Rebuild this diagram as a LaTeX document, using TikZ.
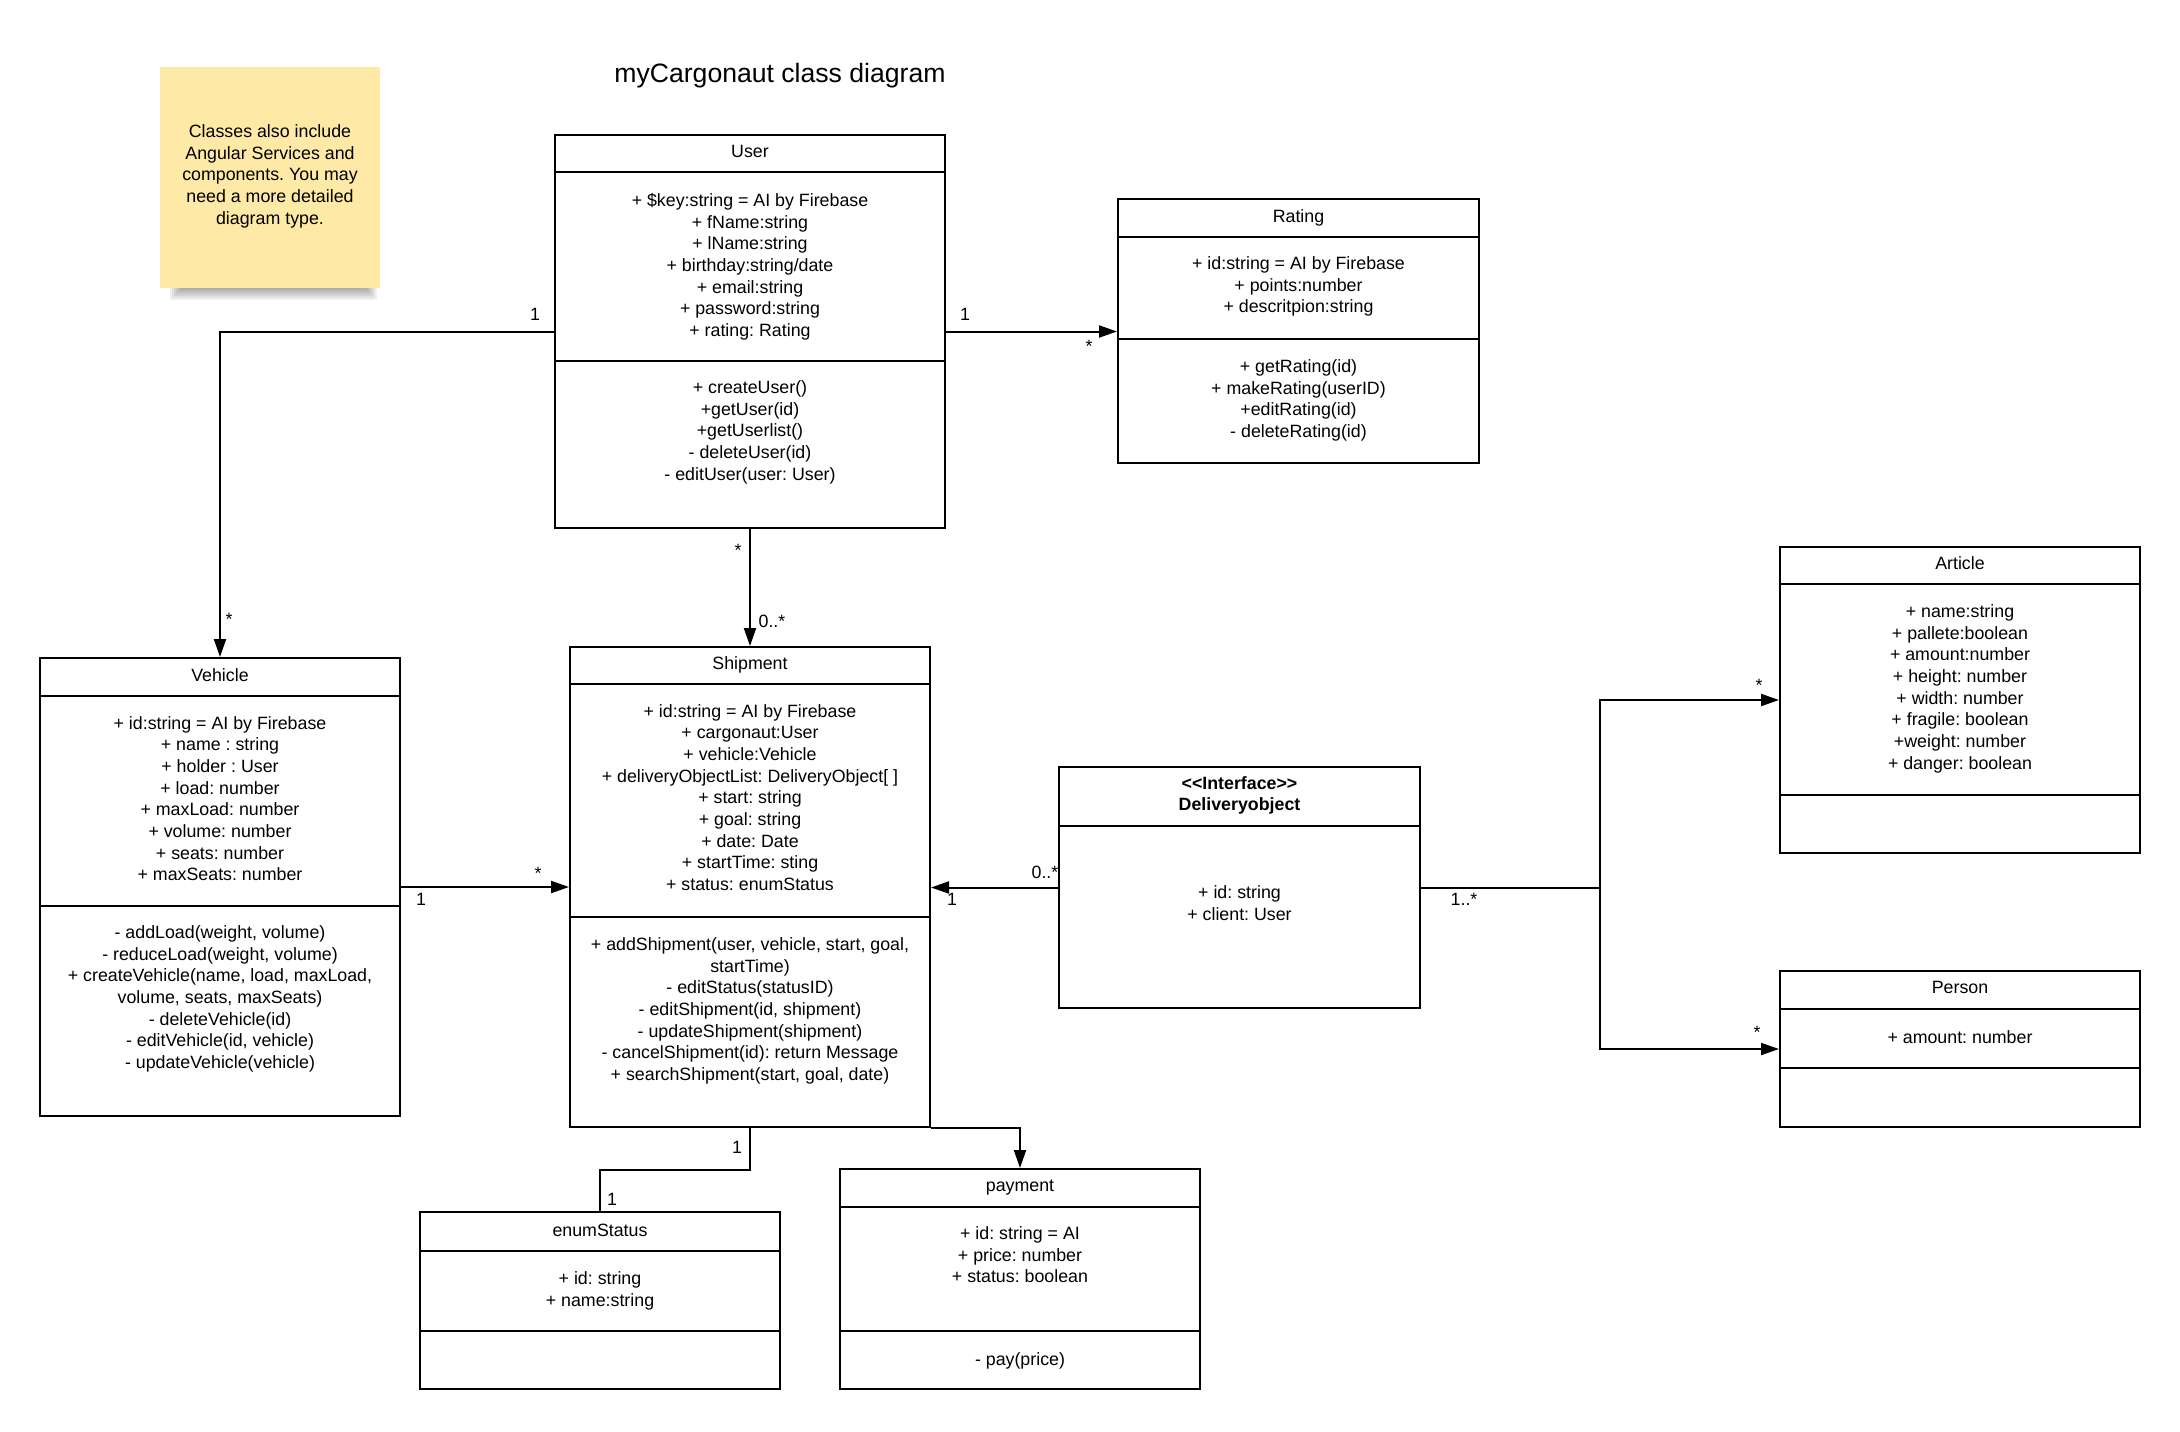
\documentclass[tikz,border=0pt]{standalone}
\usepackage{fontspec}
\setmainfont{Liberation Sans}
\usetikzlibrary{arrows.meta,fit}
\definecolor{stickyyellow}{RGB}{254,233,166}
\newcommand\umlfont{\fontsize{8.9pt}{10.83pt}\selectfont\frenchspacing}
\tikzset{
classbox/.style={draw=black, line width=1pt, fill=white, inner sep=0pt},
classline/.style={draw=black, line width=1pt},
classtext/.style={font=\umlfont, align=center, inner sep=0pt, anchor=north, yshift=-1.4pt, execute at begin node=\strut},
multlabel/.style={font=\umlfont, inner sep=0pt, anchor=base},
assocarrow/.style={draw=black, line width=1pt, -{Triangle[length=9pt,width=6pt]}},
assocline/.style={draw=black, line width=1pt},
}
\begin{document}
\begin{tikzpicture}[x=0.5pt,y=-0.5pt]
\fill[white] (0,0) rectangle (2180,1431);
\useasboundingbox (0,0) rectangle (2180,1431);

\foreach \d in {0,2,...,10} \fill[black,opacity=0.06] (170+\d,280) rectangle (377-\d,300-\d);
\node[fit={(160,67) (380,288)}, fill=stickyyellow, inner sep=0pt] (note) {};
\node[classtext] (notetext) at (270,121.5) {Classes also include\\Angular Services and\\components. You may\\need a more detailed\\diagram type.};
\node[font=\fontsize{13.3pt}{16pt}\selectfont, anchor=base, inner sep=0pt] (title) at (780,82) {myCargonaut class diagram};

\node[classbox, fit={(555,135) (945,528)}] (user) {};
\draw[classline] (555,172) -- (945,172);
\draw[classline] (555,361) -- (945,361);
\node[classtext] (usertitle) at (750,139) {User};
\node[classtext] (userattr) at (750,190) {+ \$key:string = AI by Firebase\\+ fName:string\\+ lName:string\\+ birthday:string/date\\+ email:string\\+ password:string\\+ rating: Rating};
\node[classtext] (usermeth) at (750,377.5) {+ createUser()\\+getUser(id)\\+getUserlist()\\- deleteUser(id)\\- editUser(user: User)};

\node[classbox, fit={(1118,199) (1479,463)}] (rating) {};
\draw[classline] (1118,237) -- (1479,237);
\draw[classline] (1118,339) -- (1479,339);
\node[classtext] (ratingtitle) at (1298.5,204) {Rating};
\node[classtext] (ratingattr) at (1298.5,253.5) {+ id:string = AI by Firebase\\+ points:number\\+ descritpion:string};
\node[classtext] (ratingmeth) at (1298.5,356.5) {+ getRating(id)\\+ makeRating(userID)\\+editRating(id)\\- deleteRating(id)};

\node[classbox, fit={(40,658) (400,1116)}] (vehicle) {};
\draw[classline] (40,696) -- (400,696);
\draw[classline] (40,906) -- (400,906);
\node[classtext] (vehicletitle) at (220,663) {Vehicle};
\node[classtext] (vehicleattr) at (220,713) {+ id:string = AI by Firebase\\+ name : string\\+ holder : User\\+ load: number\\+ maxLoad: number\\+ volume: number\\+ seats: number\\+ maxSeats: number};
\node[classtext] (vehiclemeth) at (220,922.5) {- addLoad(weight, volume)\\- reduceLoad(weight, volume)\\+ createVehicle(name, load, maxLoad,\\volume, seats, maxSeats)\\- deleteVehicle(id)\\- editVehicle(id, vehicle)\\- updateVehicle(vehicle)};

\node[classbox, fit={(570,647) (930,1127)}] (shipment) {};
\draw[classline] (570,684) -- (930,684);
\draw[classline] (570,917) -- (930,917);
\node[classtext] (shipmenttitle) at (750,651) {Shipment};
\node[classtext] (shipmentattr) at (750,701) {+ id:string = AI by Firebase\\+ cargonaut:User\\+ vehicle:Vehicle\\+ deliveryObjectList: DeliveryObject[ ]\\+ start: string\\+ goal: string\\+ date: Date\\+ startTime: sting\\+ status: enumStatus};
\node[classtext] (shipmentmeth) at (750,934.5) {+ addShipment(user, vehicle, start, goal,\\startTime)\\- editStatus(statusID)\\- editShipment(id, shipment)\\- updateShipment(shipment)\\- cancelShipment(id): return Message\\+ searchShipment(start, goal, date)};

\node[classbox, fit={(1059,767) (1420,1008)}] (dobj) {};
\draw[classline] (1059,826) -- (1420,826);
\node[classtext, font=\umlfont\bfseries] (dobjtitle) at (1239.5,773) {<{}<Interface>{}>\\Deliveryobject};
\node[classtext] (dobjattr) at (1239.5,882.5) {+ id: string\\+ client: User};

\node[classbox, fit={(1780,547) (2140,853)}] (article) {};
\draw[classline] (1780,584) -- (2140,584);
\draw[classline] (1780,795) -- (2140,795);
\node[classtext] (articletitle) at (1960,551) {Article};
\node[classtext] (articleattr) at (1960,601.5) {+ name:string\\+ pallete:boolean\\+ amount:number\\+ height: number\\+ width: number\\+ fragile: boolean\\+weight: number\\+ danger: boolean};

\node[classbox, fit={(1780,971) (2140,1127)}] (person) {};
\draw[classline] (1780,1009) -- (2140,1009);
\draw[classline] (1780,1068) -- (2140,1068);
\node[classtext] (persontitle) at (1960,975) {Person};
\node[classtext] (personattr) at (1960,1025) {+ amount: number};

\node[classbox, fit={(420,1212) (780,1389)}] (enumstatus) {};
\draw[classline] (420,1251) -- (780,1251);
\draw[classline] (420,1330.5) -- (780,1330.5);
\node[classtext] (enumtitle) at (600,1218) {enumStatus};
\node[classtext] (enumattr) at (600,1268.5) {+ id: string\\+ name:string};

\node[classbox, fit={(840,1169) (1200,1389)}] (payment) {};
\draw[classline] (840,1207) -- (1200,1207);
\draw[classline] (840,1330.5) -- (1200,1330.5);
\node[classtext] (paymenttitle) at (1020,1173) {payment};
\node[classtext] (paymentattr) at (1020,1223.5) {+ id: string = AI\\+ price: number\\+ status: boolean};
\node[classtext] (paymentmeth) at (1020,1347) {- pay(price)};

\draw[assocarrow] (user.west) -| (vehicle.north);
\draw[assocarrow] (user.east) -- (user.east -| rating.west);
\draw[assocarrow] (user.south) -- (shipment.north);
\draw[assocarrow] (vehicle.east) -- (vehicle.east -| shipment.west);
\draw[assocarrow] (dobj.west) -- (dobj.west -| shipment.east);
\coordinate (split) at (1600,887.5);
\draw[assocline] (dobj.east) -- (split);
\draw[assocarrow] (split) |- (article.west);
\draw[assocarrow] (split) |- (person.west);
\coordinate (statusbend) at (750,1170);
\draw[assocline] (shipment.south) -- (statusbend) -| (enumstatus.north);
\draw[assocarrow] (shipment.south east) -| (payment.north);

\node[multlabel] (m1) at (535,320) {1};
\node[multlabel] (m2) at (229,625) {*};
\node[multlabel] (m3) at (965,320) {1};
\node[multlabel] (m4) at (1089,352) {*};
\node[multlabel] (m5) at (738,556) {*};
\node[multlabel] (m6) at (772,627) {0..*};
\node[multlabel] (m7) at (421,905) {1};
\node[multlabel] (m8) at (538,879) {*};
\node[multlabel] (m9) at (1045,878) {0..*};
\node[multlabel] (m10) at (952,905) {1};
\node[multlabel] (m11) at (1464,905) {1..*};
\node[multlabel] (m12) at (1759,691) {*};
\node[multlabel] (m13) at (1757,1038) {*};
\node[multlabel] (m14) at (737,1153) {1};
\node[multlabel] (m15) at (612,1205) {1};
\end{tikzpicture}
\end{document}
